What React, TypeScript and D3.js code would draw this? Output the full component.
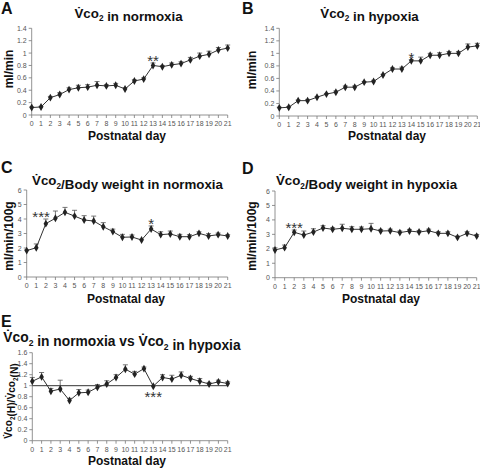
import React from "react";
import * as d3 from "d3";

const days = d3.range(0, 22);
const dayLabels = days.map((d) => String(d));

const vco2NormMean = [0.12, 0.13, 0.28, 0.33, 0.41, 0.44, 0.45, 0.48, 0.47, 0.48, 0.42, 0.55, 0.58, 0.8, 0.78, 0.81, 0.83, 0.89, 0.95, 0.98, 1.05, 1.08];
const vco2NormErr = [0.01, 0.01, 0.02, 0.03, 0.03, 0.04, 0.04, 0.06, 0.02, 0.03, 0.02, 0.02, 0.02, 0.04, 0.02, 0.03, 0.03, 0.04, 0.05, 0.05, 0.04, 0.05];

const vco2HypMean = [0.13, 0.14, 0.245, 0.245, 0.3, 0.35, 0.38, 0.46, 0.46, 0.54, 0.55, 0.655, 0.75, 0.75, 0.88, 0.88, 0.97, 0.97, 1.0, 1.0, 1.1, 1.12];
const vco2HypErr = [0.01, 0.01, 0.01, 0.02, 0.01, 0.01, 0.02, 0.02, 0.02, 0.01, 0.02, 0.01, 0.02, 0.03, 0.02, 0.06, 0.03, 0.04, 0.03, 0.03, 0.05, 0.04];

const bwNormMean = [1.82, 2.02, 3.68, 4.05, 4.46, 4.2, 3.93, 3.86, 3.47, 3.13, 2.74, 2.76, 2.55, 3.31, 2.92, 2.97, 2.78, 2.78, 3.01, 2.83, 2.92, 2.83];
const bwNormErr = [0.05, 0.26, 0.32, 0.5, 0.34, 0.4, 0.3, 0.34, 0.28, 0.17, 0.2, 0.14, 0.05, 0.21, 0.2, 0.2, 0.16, 0.14, 0.11, 0.16, 0.11, 0.09];

const bwHypMean = [1.92, 2.08, 3.14, 2.95, 3.16, 3.44, 3.35, 3.42, 3.35, 3.35, 3.39, 3.23, 3.25, 3.12, 3.23, 3.16, 3.25, 3.07, 3.07, 2.79, 3.07, 2.88];
const bwHypErr = [0.15, 0.18, 0.16, 0.28, 0.23, 0.16, 0.11, 0.28, 0.18, 0.16, 0.37, 0.11, 0.11, 0.11, 0.11, 0.11, 0.11, 0.11, 0.11, 0.09, 0.11, 0.11];

const ratioMean = [1.08, 1.16, 0.9, 0.94, 0.73, 0.87, 0.88, 0.97, 1.03, 1.15, 1.3, 1.21, 1.31, 0.99, 1.15, 1.12, 1.19, 1.13, 1.08, 1.03, 1.07, 1.04];
const ratioErr = [0.07, 0.08, 0.05, 0.16, 0.04, 0.06, 0.04, 0.05, 0.06, 0.05, 0.08, 0.05, 0.03, 0.0, 0.05, 0.07, 0.06, 0.04, 0.05, 0.03, 0.03, 0.03];

const yTicksVco2 = [0, 0.2, 0.4, 0.6, 0.8, 1, 1.2, 1.4];
const yTicksBw = [0, 1, 2, 3, 4, 5, 6];
const yTicksRatio = [0, 0.2, 0.4, 0.6, 0.8, 1, 1.2, 1.4, 1.6];

const FONT = "'Liberation Sans', Arial, Helvetica, sans-serif";
const VDOT = "V\u0307";

type Star = { day: number; text: string; below?: boolean };

type PanelProps = {
  x0: number; x1: number; y0: number; y1: number;
  yTicks: number[];
  mean: number[]; err: number[];
  stars: Star[];
  refLine?: number;
};

function Vco2({ size = 12 }: { size?: number }) {
  return (
    <>
      <tspan>{VDOT}co</tspan>
      <tspan fontSize={size * 0.62} dy={size * 0.28}>2</tspan>
      <tspan dy={-size * 0.28}></tspan>
    </>
  );
}

function Panel(p: PanelProps) {
  const yMax = p.yTicks[p.yTicks.length - 1];
  const x = d3.scaleLinear().domain([0, 21]).range([p.x0, p.x1]);
  const y = d3.scaleLinear().domain([0, yMax]).range([p.y0, p.y1]);
  const line = d3
    .line<number>()
    .x((_, i) => x(days[i]))
    .y((d) => y(d));
  const fmt = d3.format("~g");
  const axisColor = "#777";
  return (
    <g>
      <line x1={p.x0} x2={p.x0} y1={p.y0} y2={p.y1} stroke={axisColor} strokeWidth={0.8} />
      <line x1={p.x0} x2={p.x1} y1={p.y0} y2={p.y0} stroke={axisColor} strokeWidth={0.8} />
      {p.yTicks.map((t) => (
        <g key={"y" + t}>
          <line x1={p.x0 - 3} x2={p.x0} y1={y(t)} y2={y(t)} stroke={axisColor} strokeWidth={0.8} />
          <text x={p.x0 - 5} y={y(t) + 2.5} textAnchor="end" fontSize={7} fill="#555" fontFamily={FONT}>
            {fmt(t)}
          </text>
        </g>
      ))}
      {days.map((d, i) => (
        <g key={"x" + d}>
          <line x1={x(d)} x2={x(d)} y1={p.y0} y2={p.y0 + 3} stroke={axisColor} strokeWidth={0.8} />
          <text x={x(d)} y={p.y0 + 11} textAnchor="middle" fontSize={7} fill="#555" fontFamily={FONT}>
            {dayLabels[i]}
          </text>
        </g>
      ))}
      {p.refLine !== undefined && (
        <line x1={p.x0} x2={p.x1} y1={y(p.refLine)} y2={y(p.refLine)} stroke="#333" strokeWidth={1} />
      )}
      {p.mean.map((m, i) =>
        p.err[i] > 0 ? (
          <g key={"e" + i} stroke="#555" strokeWidth={0.8}>
            <line x1={x(days[i])} x2={x(days[i])} y1={y(m)} y2={y(m + p.err[i])} />
            <line x1={x(days[i]) - 2.5} x2={x(days[i]) + 2.5} y1={y(m + p.err[i])} y2={y(m + p.err[i])} />
          </g>
        ) : null
      )}
      <path d={line(p.mean) || ""} fill="none" stroke="#333" strokeWidth={1} />
      {p.mean.map((m, i) => (
        <path
          key={"m" + i}
          transform={`translate(${x(days[i])},${y(m)})`}
          d={d3.symbol(d3.symbolDiamond, 18)() || ""}
          fill="#222"
        />
      ))}
      {p.stars.map((s, i) => {
        const idx = Math.round(s.day);
        const top = p.mean[idx] + p.err[idx];
        const yy = s.below ? y(p.mean[idx]) + 16 : y(top) + 3;
        return (
          <text key={"s" + i} x={x(s.day)} y={yy} textAnchor="middle" fontSize={15} fill="#333" fontFamily={FONT}>
            {s.text}
          </text>
        );
      })}
    </g>
  );
}

export default function App() {
  const bold = { fontFamily: FONT, fontWeight: 700, fill: "#111" } as const;
  const TS = 13.3;
  return (
    <svg width={480} height={469} style={{ position: "absolute", left: 0, top: 0, background: "#fff" }}>
      <rect width={480} height={469} fill="#fff" />
      {/* Panel A */}
      <text x={1} y={14} fontSize={16} {...bold}>A</text>
      <text x={128.5} y={17.5} fontSize={TS} textAnchor="middle" {...bold}>
        <Vco2 size={TS} /> in normoxia
      </text>
      <text transform="translate(12.5,69) rotate(-90)" fontSize={12} textAnchor="middle" {...bold}>ml/min</text>
      <text x={127} y={140} fontSize={12} textAnchor="middle" {...bold}>Postnatal day</text>
      <Panel x0={31.7} x1={227.7} y0={115} y1={28.3} yTicks={yTicksVco2} mean={vco2NormMean} err={vco2NormErr}
        stars={[{ day: 13, text: "**" }]} />

      {/* Panel B */}
      <text x={242} y={14} fontSize={16} {...bold}>B</text>
      <text x={369.5} y={17.5} fontSize={TS} textAnchor="middle" {...bold}>
        <Vco2 size={TS} /> in hypoxia
      </text>
      <text transform="translate(256,70) rotate(-90)" fontSize={12} textAnchor="middle" {...bold}>ml/min</text>
      <text x={387} y={140} fontSize={12} textAnchor="middle" {...bold}>Postnatal day</text>
      <Panel x0={279.3} x1={477.3} y0={116} y1={28.3} yTicks={yTicksVco2} mean={vco2HypMean} err={vco2HypErr}
        stars={[{ day: 14, text: "*" }]} />

      {/* Panel C */}
      <text x={1} y={173} fontSize={16} {...bold}>C</text>
      <text x={127.5} y={185} fontSize={TS} textAnchor="middle" {...bold}>
        <Vco2 size={TS} />/Body weight in normoxia
      </text>
      <text transform="translate(12.5,236) rotate(-90)" fontSize={12} textAnchor="middle" {...bold}>ml/min/100g</text>
      <text x={126} y={303} fontSize={12} textAnchor="middle" {...bold}>Postnatal day</text>
      <Panel x0={26.7} x1={227.7} y0={277} y1={190} yTicks={yTicksBw} mean={bwNormMean} err={bwNormErr}
        stars={[{ day: 1.5, text: "***" }, { day: 13, text: "*" }]} />

      {/* Panel D */}
      <text x={242} y={174} fontSize={16} {...bold}>D</text>
      <text x={366.5} y={185} fontSize={TS} textAnchor="middle" {...bold}>
        <Vco2 size={TS} />/Body weight in hypoxia
      </text>
      <text transform="translate(256,236) rotate(-90)" fontSize={12} textAnchor="middle" {...bold}>ml/min/100g</text>
      <text x={381} y={303} fontSize={12} textAnchor="middle" {...bold}>Postnatal day</text>
      <Panel x0={275} x1={476.7} y0={277.7} y1={191} yTicks={yTicksBw} mean={bwHypMean} err={bwHypErr}
        stars={[{ day: 2, text: "***" }]} />

      {/* Panel E */}
      <text x={1} y={327} fontSize={16} {...bold}>E</text>
      <text x={122} y={342} fontSize={13.8} textAnchor="middle" {...bold}>
        <Vco2 size={13.8} /> in normoxia vs <Vco2 size={13.8} /> in hypoxia
      </text>
      <text transform="translate(12,401) rotate(-90)" fontSize={10.2} textAnchor="middle" {...bold}>
        <Vco2 size={10.2} />(H)/<Vco2 size={10.2} />(N)
      </text>
      <text x={127} y={465} fontSize={12} textAnchor="middle" {...bold}>Postnatal day</text>
      <Panel x0={32.3} x1={227.7} y0={440.7} y1={352.7} yTicks={yTicksRatio} mean={ratioMean} err={ratioErr}
        stars={[{ day: 13, text: "***", below: true }]} refLine={1} />
    </svg>
  );
}
